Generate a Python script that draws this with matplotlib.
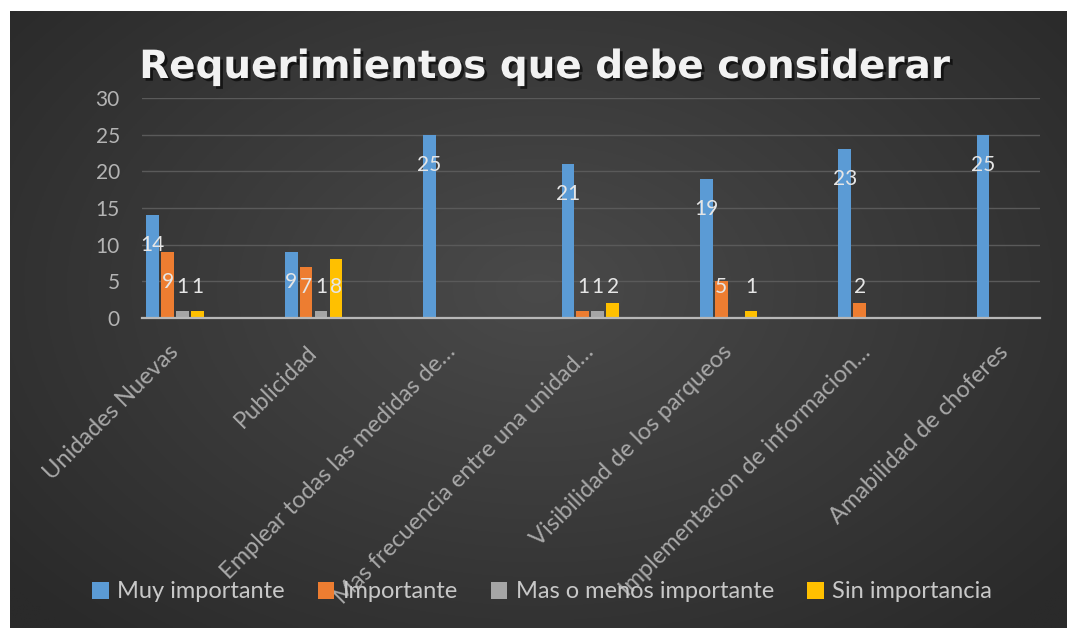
import numpy as np
import matplotlib
matplotlib.use("Agg")
from matplotlib import pyplot as plt
import matplotlib.patheffects as pe

# respuestas por requerimiento
categorias = ["Unidades Nuevas", "Publicidad", "Emplear todas las medidas de…",
              "Mas frecuencia entre una unidad…", "Visibilidad de los parqueos",
              "Implementacion de informacion…", "Amabilidad de choferes"]
series = ["Muy importante", "Importante", "Mas o menos importante", "Sin importancia"]
muy_importante = [14, 9, 25, 21, 19, 23, 25]
importante = [9, 7, 0, 1, 5, 2, 0]
mas_o_menos = [1, 1, 0, 1, 0, 0, 0]
sin_importancia = [1, 8, 0, 2, 1, 0, 0]
colores = ["#5B9BD5", "#ED7D31", "#A5A5A5", "#FFC000"]

plt.rcParams['font.family'] = ['Lato', 'DejaVu Sans']

fig = plt.figure(figsize=(10.67, 6.28), dpi=100)
fig.patch.set_facecolor("white")

# fondo oscuro con degradado radial
bg = fig.add_axes([10/1067, 0, 1 - 10/1067, 1 - 11/628], zorder=-10)
yy, xx = np.mgrid[0:1:300j, 0:1:500j]
r = np.sqrt(((xx - 0.5) / 0.65) ** 2 + ((yy - 0.45) / 0.75) ** 2)
r = np.clip(r, 0, 1)
gris = (0x4a - (0x4a - 0x2a) * r) / 255
bg.imshow(np.dstack([gris, gris, gris]), aspect="auto", extent=[0, 1, 0, 1])
bg.axis("off")

ax = fig.add_axes([142/1067, 1 - 318/628, (1040 - 142)/1067, 220/628])
ax.patch.set_alpha(0)

x = np.arange(len(categorias))
paso = 0.108
ancho = 0.092
datos = [muy_importante, importante, mas_o_menos, sin_importancia]
for i, valores in enumerate(datos):
    pos = x + (i - 1.5) * paso
    ax.bar(pos, valores, ancho, color=colores[i], label=series[i], zorder=3)
    for px, v in zip(pos, valores):
        if v == 0:
            continue
        ax.text(px, max(v - 4.1, 4.2), str(v), ha="center", va="center",
                color="#e6e6e6", fontsize=15, zorder=4)

ax.set_ylim(0, 30)
ax.set_xlim(-0.24, 6.25)
ax.set_yticks(range(0, 31, 5))
ax.yaxis.grid(True, color="#5a5a5a", linewidth=1, zorder=0)
ax.tick_params(axis="y", length=0, colors="#b4b4b4", labelsize=15, pad=16)
ax.tick_params(axis="x", length=0, colors="#a8a8a8", labelsize=17, pad=22)
ax.set_xticks(x)
ax.set_xticklabels(categorias, rotation=45, ha="right", va="center",
                   rotation_mode="anchor")
for s in ["top", "right", "left"]:
    ax.spines[s].set_visible(False)
ax.spines["bottom"].set_color("#b8b8b8")
ax.spines["bottom"].set_linewidth(1.6)
ax.spines["bottom"].set_zorder(5)

titulo = fig.text(0.51, 1 - 78/628, "Requerimientos que debe considerar",
                  ha="center", va="baseline", fontsize=28, fontweight="bold",
                  color="#f2f2f2", family="DejaVu Sans")
titulo.set_path_effects([pe.withSimplePatchShadow(offset=(2, -2), shadow_rgbFace="black", alpha=0.6)])

leg = fig.legend(loc="center", bbox_to_anchor=(0.508, 1 - 592/628), ncol=4,
                 frameon=False, fontsize=17, handlelength=0.7, handleheight=0.7,
                 handletextpad=0.35, columnspacing=1.4)
for t in leg.get_texts():
    t.set_color("#c8c8c8")

fig.savefig("out.png", dpi=100)
